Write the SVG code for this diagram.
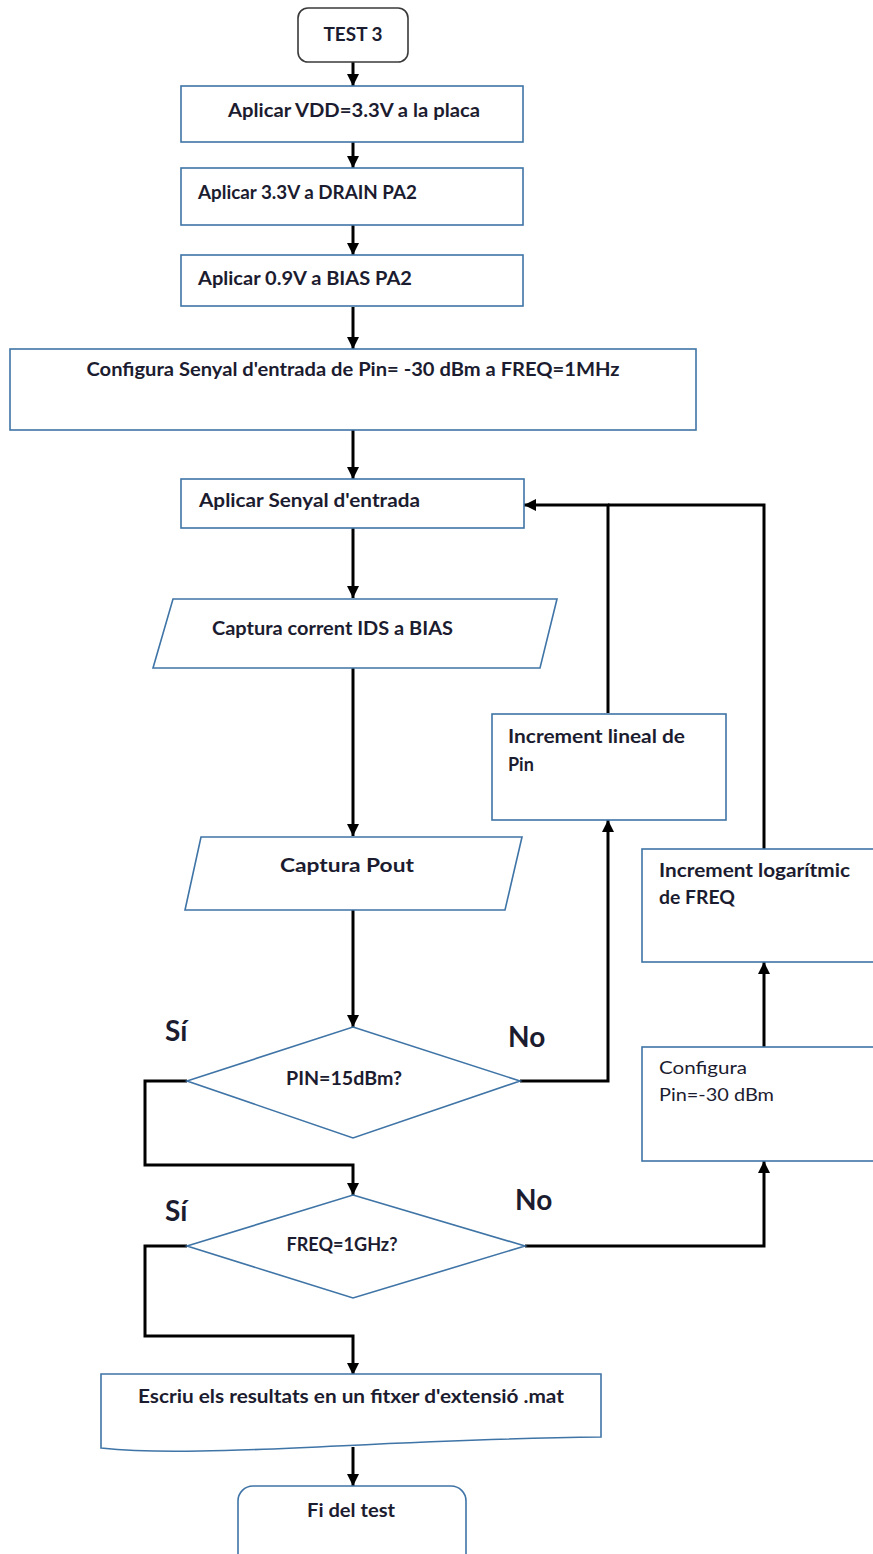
<svg xmlns="http://www.w3.org/2000/svg" width="873" height="1554" viewBox="0 0 873 1554">
  <defs>
    <marker id="arrow" markerUnits="userSpaceOnUse" markerWidth="12" markerHeight="14" refX="12" refY="6" orient="auto">
      <path d="M0,0 L12,6 L0,12 Z" fill="#000"/>
    </marker>
    <style>
      .box { fill: #fff; stroke: #3f74a6; stroke-width: 1.6; }
      .term { fill: #fff; stroke: #3a3a3a; stroke-width: 1.6; }
      .term2 { fill: #fff; stroke: #3f74a6; stroke-width: 1.6; }
      .t { font-family: Lato, "Open Sans", "Liberation Sans", sans-serif; font-weight: bold; font-size: 18px; fill: #1c1c30; }
      .reg { font-weight: normal; }
      .big { font-size: 28px; }
      .mid { text-anchor: middle; }
      .conn { fill: none; stroke: #000; stroke-width: 3; }
      .conn path.a { marker-end: url(#arrow); }
    </style>
  </defs>

  <!-- connectors -->
  <g id="connectors" class="conn">
    <path class="a" d="M353,62 V86"/>
    <path class="a" d="M353,142 V168"/>
    <path class="a" d="M353,225 V255"/>
    <path class="a" d="M353,307 V349"/>
    <path class="a" d="M353,430 V479"/>
    <path class="a" d="M353,528 V598"/>
    <path class="a" d="M353,668 V836"/>
    <path class="a" d="M353,910 V1027"/>
    <!-- PIN yes -->
    <path class="a" d="M187,1081 H145 V1165 H353 V1195"/>
    <!-- FREQ yes -->
    <path class="a" d="M187,1246 H145 V1336 H353 V1375"/>
    <path class="a" d="M353,1447 V1486"/>
    <!-- PIN no: linear increment and loop back -->
    <path class="a" d="M520,1081 H608 V820"/>
    <path class="a" d="M608,713 V505 H524"/>
    <!-- FREQ no: reset Pin, log increment, loop back -->
    <path class="a" d="M525,1246 H764 V1161"/>
    <path class="a" d="M764,1047 V962"/>
    <path d="M764,849 V505 H608"/>
  </g>

  <g id="start">
    <rect class="term" x="298" y="8" width="110" height="54" rx="10"/>
    <text class="t mid" x="353" y="41" textLength="59" lengthAdjust="spacingAndGlyphs">TEST 3</text>
  </g>

  <g id="vdd">
    <rect class="box" x="181" y="86" width="342" height="56"/>
    <text class="t mid" x="354" y="117" textLength="252" lengthAdjust="spacingAndGlyphs">Aplicar VDD=3.3V a la placa</text>
  </g>

  <g id="drain">
    <rect class="box" x="181" y="168" width="342" height="57"/>
    <text class="t" x="198" y="199" textLength="219" lengthAdjust="spacingAndGlyphs">Aplicar 3.3V a DRAIN PA2</text>
  </g>

  <g id="bias">
    <rect class="box" x="181" y="255" width="342" height="51"/>
    <text class="t" x="198" y="285" textLength="214" lengthAdjust="spacingAndGlyphs">Aplicar 0.9V a BIAS PA2</text>
  </g>

  <g id="config-input">
    <rect class="box" x="10" y="349" width="686" height="81"/>
    <text class="t mid" x="353" y="376" textLength="533" lengthAdjust="spacingAndGlyphs">Configura Senyal d'entrada de Pin= -30 dBm a FREQ=1MHz</text>
  </g>

  <g id="apply-input">
    <rect class="box" x="181" y="479" width="343" height="49"/>
    <text class="t" x="199" y="507" textLength="221" lengthAdjust="spacingAndGlyphs">Aplicar Senyal d'entrada</text>
  </g>

  <g id="capture-ids">
    <polygon class="box" points="173,599 557,599 540,668 153,668"/>
    <text class="t" x="212" y="635" textLength="241" lengthAdjust="spacingAndGlyphs">Captura corrent IDS a BIAS</text>
  </g>

  <g id="capture-pout">
    <polygon class="box" points="201,837 522,837 505,910 185,910"/>
    <text class="t mid" x="347" y="872" textLength="134" lengthAdjust="spacingAndGlyphs">Captura Pout</text>
  </g>

  <g id="pin-check">
    <polygon class="box" points="353,1027 520,1081 353,1138 187,1081"/>
    <text class="t mid" x="344" y="1085" textLength="116" lengthAdjust="spacingAndGlyphs">PIN=15dBm?</text>
    <text class="t big" x="165" y="1041">Sí</text>
    <text class="t big" x="508" y="1047">No</text>
  </g>

  <g id="freq-check">
    <polygon class="box" points="353,1195 525,1246 353,1298 187,1246"/>
    <text class="t mid" x="342" y="1251" textLength="111" lengthAdjust="spacingAndGlyphs">FREQ=1GHz?</text>
    <text class="t big" x="165" y="1221">Sí</text>
    <text class="t big" x="515" y="1210">No</text>
  </g>

  <g id="lin-increment">
    <rect class="box" x="492" y="714" width="234" height="106"/>
    <text class="t" x="508" y="743" textLength="177" lengthAdjust="spacingAndGlyphs">Increment lineal de</text>
    <text class="t" x="508" y="771">Pin</text>
  </g>

  <g id="log-increment">
    <rect class="box" x="642" y="849" width="240" height="113"/>
    <text class="t" x="659" y="877" textLength="191" lengthAdjust="spacingAndGlyphs">Increment logarítmic</text>
    <text class="t" x="659" y="904" textLength="76" lengthAdjust="spacingAndGlyphs">de FREQ</text>
  </g>

  <g id="reset-pin">
    <rect class="box" x="642" y="1047" width="240" height="114"/>
    <text class="t reg" x="659" y="1074" textLength="88" lengthAdjust="spacingAndGlyphs">Configura</text>
    <text class="t reg" x="659" y="1101" textLength="115" lengthAdjust="spacingAndGlyphs">Pin=-30 dBm</text>
  </g>

  <g id="write-results">
    <path class="box" d="M101,1374 H601 V1437 C420,1439 300,1450 200,1451 C150,1452 120,1450 101,1448 Z"/>
    <text class="t mid" x="351" y="1403" textLength="426" lengthAdjust="spacingAndGlyphs">Escriu els resultats en un fitxer d'extensió .mat</text>
  </g>

  <g id="end">
    <rect class="term2" x="238" y="1486" width="228" height="90" rx="15"/>
    <text class="t mid" x="351" y="1517" textLength="88" lengthAdjust="spacingAndGlyphs">Fi del test</text>
  </g>
</svg>
